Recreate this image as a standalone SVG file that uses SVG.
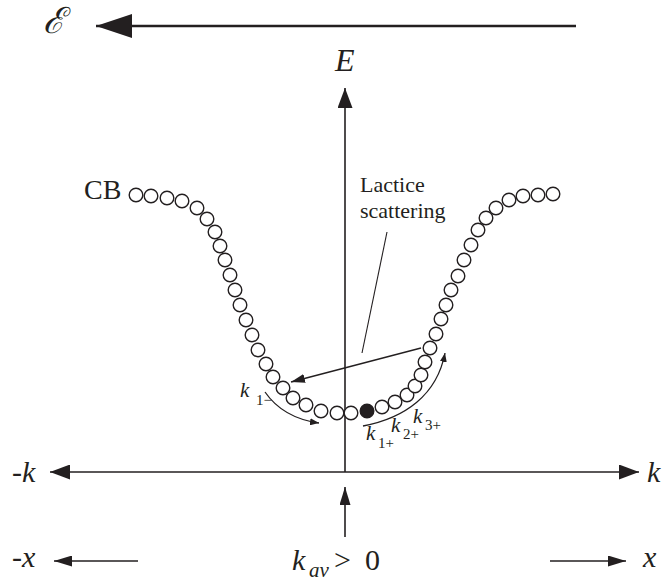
<svg xmlns="http://www.w3.org/2000/svg" width="668" height="584" viewBox="0 0 668 584">
<defs>
<style>
.ln{stroke:#231f20;fill:none}
.dot{fill:#fff;stroke:#231f20;stroke-width:1.4}
.t{font-family:"Liberation Serif","Times New Roman",serif;fill:#231f20}
.i{font-style:italic}
.scr{font-family:"DejaVu Serif",serif;fill:#231f20;font-style:italic}
</style>
<marker id="axh" markerUnits="userSpaceOnUse" markerWidth="20" markerHeight="15" refX="20" refY="7.5" orient="auto"><path d="M0,0 L20,7.5 L0,15 Z" fill="#231f20"/></marker>
<marker id="bigh" markerUnits="userSpaceOnUse" markerWidth="36" markerHeight="24" refX="36" refY="12" orient="auto"><path d="M0,0 L36,12 L0,24 Z" fill="#231f20"/></marker>
<marker id="mh" markerUnits="userSpaceOnUse" markerWidth="18" markerHeight="11" refX="18" refY="5.5" orient="auto"><path d="M0,0 L18,5.5 L0,11 Z" fill="#231f20"/></marker>
<marker id="sh" markerUnits="userSpaceOnUse" markerWidth="14" markerHeight="9" refX="14" refY="4.5" orient="auto"><path d="M0,0 L14,4.5 L0,9 Z" fill="#231f20"/></marker>
<marker id="th" markerUnits="userSpaceOnUse" markerWidth="9" markerHeight="7" refX="9" refY="3.5" orient="auto"><path d="M0,0 L9,3.5 L0,7 Z" fill="#231f20"/></marker>
</defs>
<rect width="668" height="584" fill="#fff"/>

<g id="connectors">
<line class="ln" x1="576" y1="26" x2="96" y2="26" stroke-width="2.3" marker-end="url(#bigh)"/>
<line class="ln" x1="345" y1="472" x2="345" y2="88" stroke-width="1.6" marker-end="url(#axh)"/>
<line class="ln" x1="345" y1="472" x2="50" y2="472" stroke-width="1.6" marker-end="url(#axh)"/>
<line class="ln" x1="345" y1="472" x2="639" y2="472" stroke-width="1.6" marker-end="url(#axh)"/>
<line class="ln" x1="345" y1="537" x2="345" y2="487" stroke-width="1.6" marker-end="url(#mh)"/>
<line class="ln" x1="138" y1="561" x2="54" y2="561" stroke-width="1.6" marker-end="url(#mh)"/>
<line class="ln" x1="550" y1="561" x2="626" y2="561" stroke-width="1.6" marker-end="url(#mh)"/>
<line class="ln" x1="387" y1="232" x2="362" y2="353" stroke-width="1.1"/>
<line class="ln" x1="421" y1="348" x2="291" y2="382" stroke-width="1.3" marker-end="url(#sh)"/>
<path class="ln" d="M265 392 Q283 418 319 423" stroke-width="1.3" marker-end="url(#th)"/>
<path class="ln" d="M363 426 C405 418 437 395 445 353" stroke-width="1.3" marker-end="url(#th)"/>
</g>

<g id="cb-band">
<circle class="dot" cx="136" cy="195" r="6.8"/>
<circle class="dot" cx="151" cy="196" r="6.8"/>
<circle class="dot" cx="167" cy="198" r="6.8"/>
<circle class="dot" cx="182" cy="201" r="6.8"/>
<circle class="dot" cx="197" cy="208" r="6.8"/>
<circle class="dot" cx="207" cy="219" r="6.8"/>
<circle class="dot" cx="215" cy="232" r="6.8"/>
<circle class="dot" cx="220" cy="246" r="6.8"/>
<circle class="dot" cx="225" cy="260" r="6.8"/>
<circle class="dot" cx="230" cy="275" r="6.8"/>
<circle class="dot" cx="235" cy="290" r="6.8"/>
<circle class="dot" cx="240" cy="305" r="6.8"/>
<circle class="dot" cx="246" cy="320" r="6.8"/>
<circle class="dot" cx="252" cy="335" r="6.8"/>
<circle class="dot" cx="258" cy="350" r="6.8"/>
<circle class="dot" cx="266" cy="364" r="6.8"/>
<circle class="dot" cx="273" cy="377" r="6.8"/>
<circle class="dot" cx="283" cy="388" r="6.8"/>
<circle class="dot" cx="293" cy="398" r="6.8"/>
<circle class="dot" cx="306" cy="405" r="6.8"/>
<circle class="dot" cx="321" cy="411" r="6.8"/>
<circle class="dot" cx="337" cy="413" r="6.8"/>
<circle class="dot" cx="351" cy="413" r="6.8"/>
<circle cx="367" cy="411" r="6.8" fill="#231f20" stroke="#231f20" stroke-width="1.4"/>
<circle class="dot" cx="382" cy="407" r="6.8"/>
<circle class="dot" cx="395" cy="402" r="6.8"/>
<circle class="dot" cx="407" cy="395" r="6.8"/>
<circle class="dot" cx="415" cy="386" r="6.8"/>
<circle class="dot" cx="421" cy="375" r="6.8"/>
<circle class="dot" cx="425" cy="362" r="6.8"/>
<circle class="dot" cx="430" cy="348" r="6.8"/>
<circle class="dot" cx="436" cy="334" r="6.8"/>
<circle class="dot" cx="441" cy="319" r="6.8"/>
<circle class="dot" cx="446" cy="305" r="6.8"/>
<circle class="dot" cx="451" cy="290" r="6.8"/>
<circle class="dot" cx="458" cy="276" r="6.8"/>
<circle class="dot" cx="464" cy="260" r="6.8"/>
<circle class="dot" cx="471" cy="245" r="6.8"/>
<circle class="dot" cx="478" cy="230" r="6.8"/>
<circle class="dot" cx="486" cy="218" r="6.8"/>
<circle class="dot" cx="496" cy="208" r="6.8"/>
<circle class="dot" cx="509" cy="200" r="6.8"/>
<circle class="dot" cx="523" cy="196" r="6.8"/>
<circle class="dot" cx="538" cy="195" r="6.8"/>
<circle class="dot" cx="553" cy="194" r="6.8"/>
</g>

<g id="label-field"><text class="scr" x="43" y="33" font-size="36">ℰ</text></g>
<g id="label-E"><text class="t i" x="335" y="71" font-size="32">E</text></g>
<g id="label-CB"><text class="t" x="84" y="199" font-size="28">CB</text></g>
<g id="label-scattering">
<text class="t" x="360" y="192" font-size="22">Lactice</text>
<text class="t" x="360" y="218" font-size="22">scattering</text>
</g>
<g id="label-k1m"><text class="t" x="240" y="397" font-size="21"><tspan class="i">k</tspan><tspan x="256" y="405" font-size="15">1−</tspan></text></g>
<g id="label-k1p"><text class="t" x="366" y="440" font-size="21"><tspan class="i">k</tspan><tspan x="378" y="448" font-size="15">1+</tspan></text></g>
<g id="label-k2p"><text class="t" x="391" y="432" font-size="21"><tspan class="i">k</tspan><tspan x="403" y="439" font-size="15">2+</tspan></text></g>
<g id="label-k3p"><text class="t" x="413" y="423" font-size="21"><tspan class="i">k</tspan><tspan x="425" y="430" font-size="15">3+</tspan></text></g>
<g id="label-negk"><text class="t" x="12" y="482" font-size="30">-<tspan class="i">k</tspan></text></g>
<g id="label-k"><text class="t i" x="647" y="482" font-size="30">k</text></g>
<g id="label-negx"><text class="t" x="12" y="567" font-size="30">-<tspan class="i">x</tspan></text></g>
<g id="label-x"><text class="t i" x="643" y="567" font-size="30">x</text></g>
<g id="label-kav"><text class="t" x="292" y="570" font-size="30"><tspan class="i">k</tspan><tspan class="i" x="309" y="577" font-size="21">av</tspan><tspan x="334" y="570">&gt;</tspan><tspan x="365" y="570">0</tspan></text></g>
</svg>
